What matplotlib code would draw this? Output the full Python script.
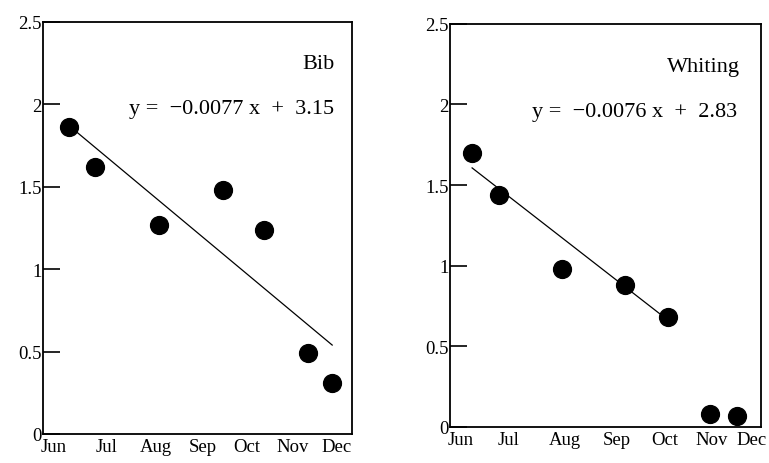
import matplotlib
matplotlib.use("Agg")
import matplotlib.pyplot as plt
import numpy as np

plt.rcParams['font.family'] = ['Liberation Serif', 'DejaVu Serif']

months = ["Jun", "Jul", "Aug", "Sep", "Oct", "Nov", "Dec"]

# Bib (x = day of year)
bib_x = [166, 183, 225, 267, 294, 323, 339]
bib_y = [1.86, 1.62, 1.27, 1.48, 1.24, 0.49, 0.31]
bib_slope, bib_icept = -0.0077, 3.15
bib_month_pos = [156, 191, 223, 254, 283, 313, 342]

# Whiting
wh_x = [161, 178, 218, 258, 285, 312, 329]
wh_y = [1.70, 1.44, 0.98, 0.88, 0.68, 0.08, 0.07]
wh_slope, wh_icept = -0.0076, 2.83
wh_fit_n = 5
wh_month_pos = [154, 184, 220, 253, 283, 313, 338]

yticks = [0, 0.5, 1, 1.5, 2, 2.5]
ylabels = ["0", "0.5", "1", "1.5", "2", "2.5"]

fig = plt.figure(figsize=(7.69, 4.64), dpi=100)
ax1 = fig.add_axes([0.0559, 0.0625, 0.4018, 0.888])
ax2 = fig.add_axes([0.5852, 0.0776, 0.404, 0.869])

def style(ax, xlim, mpos):
    ax.set_xlim(*xlim)
    ax.set_ylim(0, 2.5)
    ax.set_yticks(yticks)
    ax.set_yticklabels(ylabels)
    ax.set_xticks(mpos)
    ax.set_xticklabels(months)
    ax.tick_params(axis='y', direction='in', length=12, width=1.2, labelsize=13.5, pad=1)
    ax.tick_params(axis='x', length=0, labelsize=13.5, pad=3)
    for s in ax.spines.values():
        s.set_linewidth(1.3)

# Left panel
ax1.scatter(bib_x, bib_y, s=165, color='black', zorder=3)
xf = np.array([bib_x[0], bib_x[-1]])
ax1.plot(xf, bib_slope * xf + bib_icept, color='black', lw=0.9)
style(ax1, (149, 352), bib_month_pos)
ax1.text(0.945, 0.898, "Bib", transform=ax1.transAxes, ha='right', va='center', fontsize=16)
ax1.text(0.942, 0.789, "y =  \u22120.0077 x  +  3.15", transform=ax1.transAxes,
         ha='right', va='center', fontsize=16)

# Right panel
ax2.scatter(wh_x, wh_y, s=165, color='black', zorder=3)
xf = np.array([wh_x[0], wh_x[wh_fit_n - 1]])
ax2.plot(xf, wh_slope * xf + wh_icept, color='black', lw=0.9)
style(ax2, (147, 344), wh_month_pos)
ax2.text(0.933, 0.893, "Whiting", transform=ax2.transAxes, ha='right', va='center', fontsize=16)
ax2.text(0.923, 0.782, "y =  \u22120.0076 x  +  2.83", transform=ax2.transAxes,
         ha='right', va='center', fontsize=16)

fig.savefig("out.png", dpi=100)
